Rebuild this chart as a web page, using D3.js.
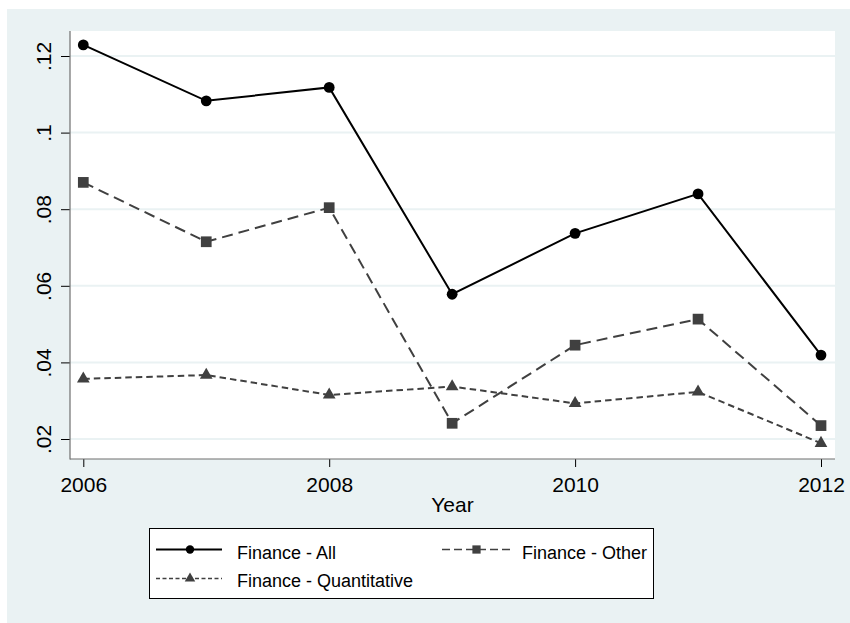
<!DOCTYPE html>
<html>
<head>
<meta charset="utf-8">
<script src="https://cdn.jsdelivr.net/npm/d3@7"></script>
<style>
html,body{margin:0;padding:0;background:#fff;}
svg text{font-family:"Liberation Sans",Arial,Helvetica,sans-serif;fill:#000;}
</style>
</head>
<body>
<svg id="chart" width="850" height="623"></svg>
<script>
const years = [2006, 2007, 2008, 2009, 2010, 2011, 2012];
const financeAll = [0.1229, 0.1083, 0.1118, 0.0578, 0.0737, 0.0840, 0.0419];
const financeOther = [0.0870, 0.0715, 0.0804, 0.0241, 0.0445, 0.0513, 0.0235];
const financeQuant = [0.0357, 0.0367, 0.0315, 0.0337, 0.0293, 0.0323, 0.0189];
const yTicks = [0.02, 0.04, 0.06, 0.08, 0.10, 0.12];
const yTickLabels = [".02", ".04", ".06", ".08", ".1", ".12"];
const xTicks = [2006, 2008, 2010, 2012];
const xTickLabels = ["2006", "2008", "2010", "2012"];
const seriesNames = ["Finance - All", "Finance - Other", "Finance - Quantitative"];

const svg = d3.select("#chart");
const bg = "#EAF2F3";

// graph region
svg.append("rect").attr("x", 7).attr("y", 9).attr("width", 843).attr("height", 614).attr("fill", bg);

const plot = {left: 70, right: 835, top: 31, bottom: 459};
svg.append("rect").attr("x", plot.left).attr("y", plot.top)
  .attr("width", plot.right - plot.left).attr("height", plot.bottom - plot.top).attr("fill", "#fff");

const x = d3.scaleLinear().domain([2006, 2012]).range([83.3, 821]);
const y = d3.scaleLinear().domain([0.02, 0.12]).range([439, 56]);

// gridlines
svg.append("g").selectAll("line").data(yTicks).join("line")
  .attr("x1", plot.left).attr("x2", plot.right)
  .attr("y1", d => y(d)).attr("y2", d => y(d))
  .attr("stroke", bg).attr("stroke-width", 2);

// y axis
const yAxis = d3.axisLeft(y).tickValues(yTicks).tickSize(9).tickPadding(0)
  .tickFormat((d, i) => yTickLabels[i]);
const gy = svg.append("g").attr("transform", `translate(${plot.left},0)`).call(yAxis);
gy.select(".domain").remove();
gy.selectAll(".tick line").attr("stroke", "#000").attr("stroke-width", 1);
gy.selectAll(".tick text")
  .attr("transform", null)
  .attr("x", null).attr("dy", null)
  .attr("text-anchor", "middle")
  .attr("font-size", 21)
  .attr("transform", "translate(-19,0) rotate(-90)")
  .attr("y", 0);

// x axis
const xAxis = d3.axisBottom(x).tickValues(xTicks).tickSize(8).tickPadding(0)
  .tickFormat((d, i) => xTickLabels[i]);
const gx = svg.append("g").attr("transform", `translate(0,${plot.bottom})`).call(xAxis);
gx.select(".domain").remove();
gx.selectAll(".tick line").attr("stroke", "#000").attr("stroke-width", 1);
gx.selectAll(".tick text").attr("dy", null).attr("y", 33).attr("font-size", 21);

// axis lines
svg.append("line").attr("x1", plot.left).attr("x2", plot.left)
  .attr("y1", plot.top).attr("y2", plot.bottom + 0.5).attr("stroke", "#6e6e6e").attr("stroke-width", 1.2);
svg.append("line").attr("x1", plot.left).attr("x2", plot.right)
  .attr("y1", plot.bottom).attr("y2", plot.bottom).attr("stroke", "#6e6e6e").attr("stroke-width", 1.2);

svg.append("text").attr("x", 452.5).attr("y", 512).attr("text-anchor", "middle")
  .attr("font-size", 21).text("Year");

const series = [
  {name: seriesNames[0], values: financeAll, color: "#000", dash: null, symbol: d3.symbolCircle, size: Math.PI * 5.4 * 5.4, lsize: Math.PI * 4.2 * 4.2},
  {name: seriesNames[1], values: financeOther, color: "#404040", dash: "11,6", symbol: d3.symbolSquare, size: 115, lsize: 68},
  {name: seriesNames[2], values: financeQuant, color: "#404040", dash: "6.5,4", symbol: d3.symbolTriangle, size: 70, lsize: 48}
];

const line = d3.line().x((d, i) => x(years[i])).y(d => y(d));

series.forEach(s => {
  const g = svg.append("g");
  g.append("path").attr("d", line(s.values)).attr("fill", "none")
    .attr("stroke", s.color).attr("stroke-width", 2)
    .attr("stroke-dasharray", s.dash);
  g.selectAll("path.m").data(s.values).join("path").attr("class", "m")
    .attr("transform", (d, i) => `translate(${x(years[i])},${y(d)})`)
    .attr("d", d3.symbol().type(s.symbol).size(s.size))
    .attr("fill", s.color);
});

// legend
const lg = svg.append("g");
lg.append("rect").attr("x", 149.5).attr("y", 528.5).attr("width", 504).attr("height", 70)
  .attr("fill", "#fff").attr("stroke", "#000").attr("stroke-width", 1);
const legendPos = [
  {x1: 156, x2: 222, mx: 190, y: 549.5, tx: 237, ty: 559},
  {x1: 442, x2: 510, mx: 476.5, y: 549.5, tx: 522, ty: 559},
  {x1: 156, x2: 222, mx: 190, y: 578.5, tx: 237, ty: 587}
];
series.forEach((s, i) => {
  const p = legendPos[i];
  lg.append("line").attr("x1", p.x1).attr("x2", p.x2).attr("y1", p.y).attr("y2", p.y)
    .attr("stroke", s.color).attr("stroke-width", i === 0 ? 2 : 1.6)
    .attr("stroke-dasharray", i === 1 ? "8,4" : (i === 2 ? "4,2.5" : null));
  lg.append("path").attr("transform", `translate(${p.mx},${p.y})`)
    .attr("d", d3.symbol().type(s.symbol).size(s.lsize)).attr("fill", s.color);
  lg.append("text").attr("x", p.tx).attr("y", p.ty).attr("font-size", 18).text(s.name);
});
</script>
</body>
</html>
